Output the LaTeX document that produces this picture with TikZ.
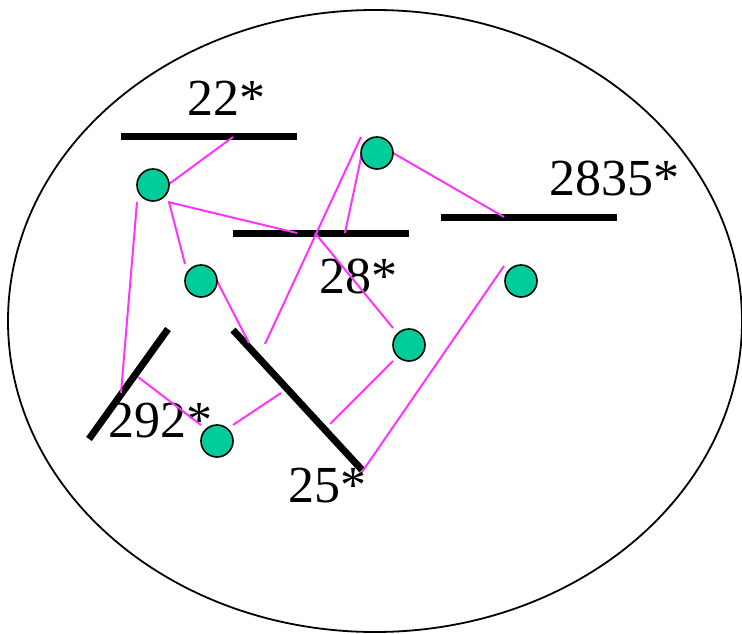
\documentclass[tikz,border=0pt]{standalone}
\usepackage{fontspec}
\setmainfont{Liberation Serif}
\usetikzlibrary{shapes.geometric}
\definecolor{dotfill}{RGB}{0,204,153}
\definecolor{linkcol}{RGB}{255,51,255}
\begin{document}
\begin{tikzpicture}[x=1pt,y=-1pt,
  bar/.style={line width=7pt,black},
  link/.style={line width=2pt,linkcol},
  dot/.style={circle,draw=black,line width=1.6pt,fill=dotfill,minimum size=32pt,inner sep=0pt},
  lab/.style={anchor=base west,inner sep=0pt,font=\fontsize{52}{62}\selectfont}]
\useasboundingbox (0,0) rectangle (742,634);
\node[draw=black,line width=1.8pt,ellipse,minimum width=734pt,minimum height=622pt,inner sep=0pt] (cell) at (375,321) {};
% bars
\coordinate (b22a) at (121,136); \coordinate (b22b) at (297,136);
\coordinate (b28a) at (233,233); \coordinate (b28b) at (409,233);
\coordinate (b2835a) at (441,217); \coordinate (b2835b) at (617,217);
\coordinate (b292a) at (168,329); \coordinate (b292b) at (89,439);
\coordinate (b25a) at (233,330); \coordinate (b25b) at (362,470);
\draw[bar] (b22a) -- (b22b);
\draw[bar] (b28a) -- (b28b);
\draw[bar] (b2835a) -- (b2835b);
% labels
\node[lab] (t22) at (187,115) {22*};
\node[lab] (t28) at (319,293) {28*};
\node[lab] (t2835) at (549,195) {2835*};
\node[lab] (t292) at (108,437) {292*};
\node[lab] (t25) at (288,502) {25*};
\draw[bar] (b292a) -- (b292b);
\draw[bar] (b25a) -- (b25b);
% link end points
\coordinate (p1) at (233,137);
\coordinate (p2) at (297,233);
\coordinate (p3) at (185,264);
\coordinate (p4a) at (137,202); \coordinate (p4b) at (121,393);
\coordinate (p5) at (249,343);
\coordinate (p6a) at (361,137); \coordinate (p6b) at (265,344);
\coordinate (p7) at (345,233);
\coordinate (x28) at (315,233);
\coordinate (p8) at (393,328);
\coordinate (p9) at (504,217);
\coordinate (p10a) at (504,266); \coordinate (p10b) at (362,472);
\coordinate (p11a) at (393,361); \coordinate (p11b) at (330,424);
\coordinate (p12a) at (138,377); \coordinate (p12b) at (201,425);
\coordinate (p13a) at (233,425); \coordinate (p13b) at (281,393);
% links
\draw[link] (169,184) -- (p1);
\draw[link] (168,202) -- (p2);
\draw[link] (169,202) -- (p3);
\draw[link] (p4a) -- (p4b);
\draw[link] (217,281) -- (p5);
\draw[link] (p6a) -- (p6b);
\draw[link] (362,153) -- (p7);
\draw[link] (x28) -- (p8);
\draw[link] (393,153) -- (p9);
\draw[link] (p10a) -- (p10b);
\draw[link] (p11a) -- (p11b);
\draw[link] (p12a) -- (p12b);
\draw[link] (p13a) -- (p13b);
% dots
\node[dot] (d1) at (153,185) {};
\node[dot] (d2) at (201,281) {};
\node[dot] (d3) at (377,153) {};
\node[dot] (d4) at (409,345) {};
\node[dot] (d5) at (521,281) {};
\node[dot] (d6) at (217,441) {};
\end{tikzpicture}
\end{document}
